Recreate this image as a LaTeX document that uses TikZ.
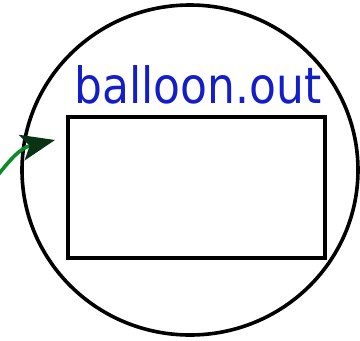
\documentclass[tikz,border=0pt]{standalone}
\usepackage{fontspec}
\setmainfont{DejaVu Sans}
\usetikzlibrary{arrows.meta,shapes.geometric}
\definecolor{inkblue}{RGB}{20,30,200}
\definecolor{inkgreen}{RGB}{10,140,40}
\definecolor{inkdark}{RGB}{10,50,20}
\tikzset{
  pen/.style={draw=black, line width=3.6pt},
  balloonshape/.style={pen, ellipse, inner sep=0pt, minimum width=336pt, minimum height=330pt},
  boxshape/.style={pen, rectangle, inner sep=0pt, minimum width=257pt, minimum height=141pt},
  labeltext/.style={text=inkblue, font=\fontsize{50}{50}\selectfont, inner sep=0pt, anchor=base},
  greenarrow/.style={draw=inkgreen, line width=3.6pt, -{Stealth[length=34pt, width=26pt, inset=8pt, fill=inkdark, color=inkdark]}}
}
\begin{document}
\begin{tikzpicture}[x=1pt,y=-1pt]
\useasboundingbox (0,0) rectangle (360,341);
\node[balloonshape] (balloon) at (190,170) {};
\node[boxshape] (box) at (196.5,187.5) {};
\node[labeltext] (label) at (198,103) {\scalebox{0.88}[1]{balloon.out}};
\coordinate (start) at (-2,175);
\coordinate (tip) at (55,140);
\draw[greenarrow] (start) .. controls (10,160) and (20,148) .. (tip);
\end{tikzpicture}
\end{document}
